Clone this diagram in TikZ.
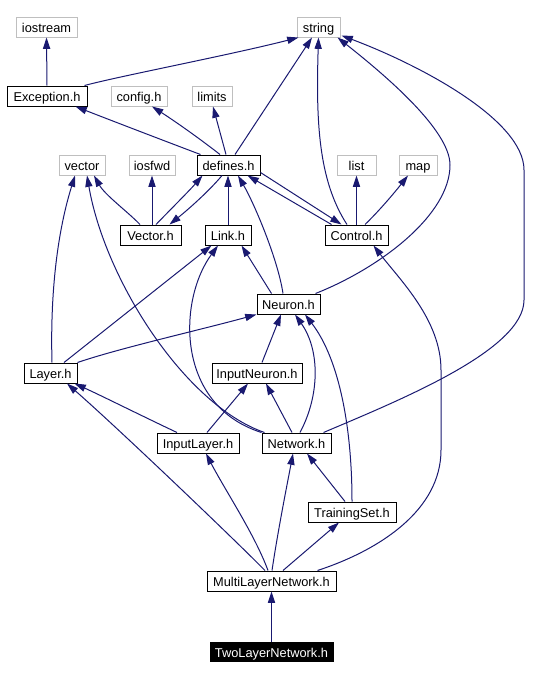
\documentclass[tikz,border=0pt]{standalone}
\usepackage{fontspec}
\setmainfont{Liberation Sans}
\usetikzlibrary{arrows.meta,calc}
\definecolor{edgeblue}{RGB}{25,25,112}
\definecolor{boxgrey}{RGB}{191,191,191}
\begin{document}
\begin{tikzpicture}[x=0.75pt,y=-0.75pt,
  hdr/.style={draw=black,line width=0.75pt,minimum height=15pt,inner sep=0pt,
    text height=8.6pt,text depth=0pt,
    font=\fontsize{9.6}{11}\selectfont},
  sysbox/.style={hdr,draw=boxgrey},
  rootbox/.style={hdr,fill=black,text=white},
  bw/.style={minimum width=#1*0.75pt},
  dep/.style={draw=edgeblue,line width=0.75pt,-{Triangle[length=8.5pt,width=5.4pt]}}
]
\useasboundingbox (0,0) rectangle (542,678);
% nodes
\node[sysbox,bw=61] (iostream) at (46.5,27) {iostream};
\node[sysbox,bw=43] (string) at (318.5,27) {string};
\node[hdr,bw=80] (exception) at (47,96) {Exception.h};
\node[sysbox,bw=56] (config) at (139,96) {config.h};
\node[sysbox,bw=40] (limits) at (212,96) {limits};
\node[sysbox,bw=46] (vector) at (82,165) {vector};
\node[sysbox,bw=46] (iosfwd) at (152,165) {iosfwd};
\node[hdr,bw=63] (defines) at (228.5,165) {defines.h};
\node[sysbox,bw=39] (list) at (356.5,165) {list};
\node[sysbox,bw=38] (map) at (418,165) {map};
\node[hdr,bw=61] (vech) at (150.5,235) {Vector.h};
\node[hdr,bw=46] (link) at (228,235) {Link.h};
\node[hdr,bw=63] (control) at (356.5,235) {Control.h};
\node[hdr,bw=63] (neuron) at (288.5,304) {Neuron.h};
\node[hdr,bw=53] (layer) at (50.5,373) {Layer.h};
\node[hdr,bw=90] (inneuron) at (257,373) {InputNeuron.h};
\node[hdr,bw=82] (inlayer) at (198,443) {InputLayer.h};
\node[hdr,bw=69] (network) at (296.5,443) {Network.h};
\node[hdr,bw=88] (training) at (352,512) {TrainingSet.h};
\node[hdr,bw=129] (mln) at (271.5,581) {MultiLayerNetwork.h};
\node[rootbox,bw=123,minimum height=14.25pt] (tln) at (271.5,651.5) {TwoLayerNetwork.h};
% edges
\draw[dep] (exception.north) -- (iostream.south);
\draw[dep] ($(exception.north east)+(-3,0)$) .. controls (120,76) and (230,55) .. ($(string.south west)+(2,0)$);
\draw[dep] ($(defines.north west)+(4,0)$) .. controls (170,143) and (110,120) .. ($(exception.south east)+(-12,0)$);
\draw[dep] ($(defines.north)+(-8.5,0)$) .. controls (195,135) and (170,118) .. ($(config.south)+(13,0)$);
\draw[dep] ($(defines.north)+(-2.5,0)$) -- ($(limits.south)+(1,0)$);
\draw[dep] ($(defines.north)+(6.5,0)$) -- ($(string.south)+(-6.5,0)$);
\draw[dep] ($(vech.north)+(-10.5,0)$) .. controls (128,212) and (105,195) .. ($(vector.south)+(12,0)$);
\draw[dep] ($(vech.north)+(1.5,0)$) -- (iosfwd.south);
\draw[dep] ($(vech.north)+(5.5,0)$) .. controls (170,210) and (190,190) .. ($(defines.south west)+(6,0)$);
\draw[dep] ($(defines.south)+(-6.5,0)$) .. controls (210,190) and (190,208) .. ($(vech.north east)+(-12,0)$);
\draw[dep] (link.north) -- ($(defines.south)+(-0.5,0)$);
\draw[dep] ($(neuron.north)+(-5.5,0)$) .. controls (278,260) and (255,205) .. ($(defines.south)+(9.5,0)$);
\draw[dep] ($(control.north west)+(7,0)$) -- ($(defines.south east)+(-13,0)$);
\draw[dep] ($(defines.south east)+(0,-3)$) -- ($(control.north west)+(17,0)$);
\draw[dep] ($(control.north)+(-9.5,0)$) .. controls (318,180) and (316,120) .. (string.south);
\draw[dep] (control.north) -- (list.south);
\draw[dep] ($(control.north)+(8.5,0)$) .. controls (380,210) and (395,192) .. ($(map.south)+(-10,0)$);
\draw[dep] ($(neuron.north east)+(-5,0)$) .. controls (380,268) and (450,215) .. (450,165)
   .. controls (450,130) and (385,75) .. ($(string.south east)+(-3,0)$);
\draw[dep] ($(network.north east)+(-8,0)$) .. controls (400,400) and (524,350) .. (524,300)
   -- (524,170) .. controls (524,120) and (420,65) .. ($(string.south east)+(1,-2)$);
\draw[dep] ($(neuron.north west)+(15,0)$) -- ($(link.south east)+(-10,0)$);
\draw[dep] ($(layer.north)+(1.5,0)$) .. controls (50,290) and (58,230) .. ($(vector.south)+(-7,0)$);
\draw[dep] ($(layer.north)+(13.5,0)$) -- ($(link.south west)+(7,0)$);
\draw[dep] (layer.north east) .. controls (120,348) and (200,330) .. (neuron.south west);
\draw[dep] ($(network.north west)+(3,0)$) .. controls (185,405) and (105,280) .. ($(vector.south)+(5,0)$);
\draw[dep] (network.north west) .. controls (175,405) and (178,300) .. ($(link.south)+(-10,0)$);
\draw[dep] ($(inneuron.north)+(5,0)$) -- ($(neuron.south)+(-7.5,0)$);
\draw[dep] ($(network.north)+(3.5,0)$) .. controls (320,395) and (320,350) .. ($(neuron.south)+(6.5,0)$);
\draw[dep] (training.north) .. controls (352,430) and (340,360) .. ($(neuron.south)+(16.5,0)$);
\draw[dep] ($(inlayer.north)+(-21,0)$) .. controls (140,415) and (100,395) .. ($(layer.south east)+(-3,0)$);
\draw[dep] ($(inlayer.north)+(9,0)$) -- ($(inneuron.south)+(-9,0)$);
\draw[dep] ($(network.north)+(-4.5,0)$) -- ($(inneuron.south)+(9,0)$);
\draw[dep] ($(training.north)+(-7,0)$) -- ($(network.south)+(10.5,0)$);
\draw[dep] ($(mln.north)+(-6.5,0)$) .. controls (235,540) and (120,430) .. ($(layer.south)+(16.5,0)$);
\draw[dep] ($(mln.north)+(-3.5,0)$) .. controls (255,535) and (225,490) .. ($(inlayer.south)+(8,0)$);
\draw[dep] ($(mln.north)+(0.5,0)$) .. controls (278,530) and (288,480) .. ($(network.south)+(-3.5,0)$);
\draw[dep] ($(mln.north)+(11.5,0)$) -- ($(training.south)+(-13,0)$);
\draw[dep] ($(mln.north east)+(-19,0)$) .. controls (380,550) and (441,510) .. (441,450)
   -- (441,370) .. controls (441,320) and (400,280) .. ($(control.south east)+(-15,0)$);
\draw[dep] (tln.north) -- (mln.south);
\end{tikzpicture}
\end{document}
